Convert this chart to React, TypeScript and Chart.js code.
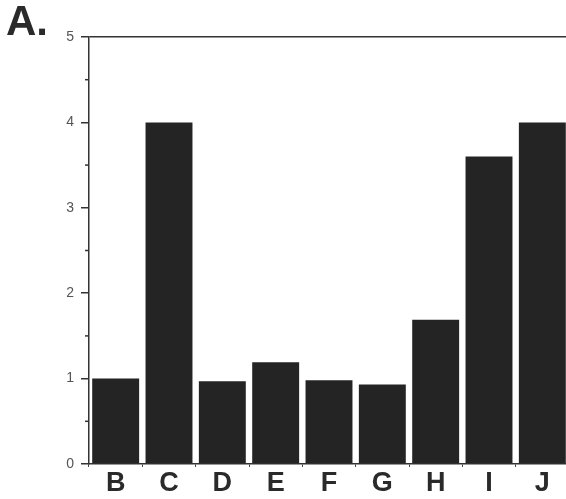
import React, { useEffect, useRef } from "react";
import { Chart, registerables } from "chart.js";

Chart.register(...registerables);

const categories = ["B", "C", "D", "E", "F", "G", "H", "I", "J"];
const values = [1.0, 4.0, 0.97, 1.19, 0.98, 0.93, 1.69, 3.6, 4.0];
const yMin = 0;
const yMax = 5;
const yStep = 1;
const yMinorValues = [0.5, 1.5, 2.5, 3.5, 4.5];
const panelLabel = "A.";

const minorTicks = {
  id: "minorTicks",
  afterDraw(chart: any) {
    const y = chart.scales.y;
    const ctx = chart.ctx;
    ctx.save();
    ctx.strokeStyle = "#333";
    ctx.lineWidth = 1.5;
    for (const v of yMinorValues) {
      const py = y.getPixelForValue(v);
      ctx.beginPath();
      ctx.moveTo(y.right - 4, py);
      ctx.lineTo(y.right, py);
      ctx.stroke();
    }
    ctx.restore();
  },
};

export default function App() {
  const ref = useRef<HTMLCanvasElement | null>(null);

  useEffect(() => {
    if (!ref.current) return;
    const chart = new Chart(ref.current, {
      type: "bar",
      data: {
        labels: categories,
        datasets: [
          {
            data: values,
            backgroundColor: "#242424",
            borderWidth: 0,
            barPercentage: 0.88,
            categoryPercentage: 1.0,
          },
        ],
      },
      plugins: [minorTicks],
      options: {
        animation: false,
        responsive: false,
        maintainAspectRatio: false,
        layout: { padding: { left: 0, right: 6, top: 37, bottom: 0 } },
        plugins: {
          legend: { display: false },
          tooltip: { enabled: false },
          title: { display: false },
        },
        scales: {
          x: {
            offset: true,
            grid: {
              display: true,
              drawOnChartArea: false,
              tickLength: 3,
              tickColor: "#444",
              offset: true,
            },
            border: { display: true, color: "#333", width: 1.5 },
            ticks: {
              color: "#2a2a2a",
              font: {
                family: "Liberation Sans, Arial, sans-serif",
                size: 27,
                weight: "bold",
              },
              padding: 0,
              maxRotation: 0,
            },
            afterFit: (scale: any) => {
              scale.height = 35;
            },
          },
          y: {
            min: yMin,
            max: yMax,
            ticks: {
              stepSize: yStep,
              color: "#555",
              font: { family: "Liberation Sans, Arial, sans-serif", size: 14 },
              padding: 7,
            },
            grid: {
              drawOnChartArea: true,
              tickLength: 8,
              tickColor: "#333",
              lineWidth: 1.5,
              color: (ctx: any) =>
                ctx.tick && ctx.tick.value === yMax ? "#333" : "rgba(0,0,0,0)",
            },
            border: { display: true, color: "#333", width: 1.5 },
            afterFit: (scale: any) => {
              scale.width = 89;
            },
          },
        },
      },
    });
    return () => chart.destroy();
  }, []);

  return (
    <div
      style={{
        position: "absolute",
        left: 0,
        top: 0,
        width: 575,
        height: 499,
        background: "#fff",
        overflow: "hidden",
      }}
    >
      <canvas ref={ref} width={575} height={499} style={{ display: "block" }} />
      <div
        style={{
          position: "absolute",
          left: 6,
          top: -3,
          fontFamily: "Liberation Sans, Arial, sans-serif",
          fontWeight: "bold",
          fontSize: 42,
          color: "#2a2a2a",
        }}
      >
        {panelLabel}
      </div>
    </div>
  );
}
